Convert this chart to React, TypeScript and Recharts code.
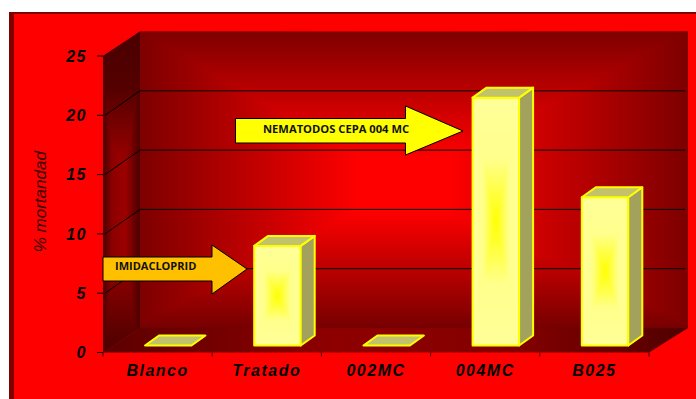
import { Bar, BarChart, ReferenceArea, XAxis, YAxis } from 'recharts'

const categories = ['Blanco', 'Tratado', '002MC', '004MC', 'B025']
const mortality = [0, 8.4, 0, 20.9, 12.5]
const yTicks = [0, 5, 10, 15, 20, 25]
const wallLines = [5, 10, 15, 20]

const rows = categories.map((name, i) => ({ name, mortality: mortality[i] }))

const YMAX = 25
// how far the room's back wall sits behind the axis plane
const ROOM_DX = 37
const ROOM_DX_RIGHT = 39
const ROOM_DY = 24.5
// bars stand a little way in from the front edge of the floor
const BAR_DX = 11
const BAR_DY = 7
const SIDE_DX = 14
const SIDE_DY = 10

const labelStyle = {
  fontFamily: '"Liberation Sans", Arial, sans-serif',
  fontWeight: 700,
  fontStyle: 'italic',
  fontSize: 16,
  letterSpacing: 1.5,
  fill: '#000',
}

function Gradients() {
  return (
    <defs>
      <linearGradient id="wallH" gradientUnits="userSpaceOnUse" x1="140" x2="688" y1="0" y2="0">
        <stop offset="0" stopColor="#7d0000" />
        <stop offset="0.4" stopColor="#ff0000" />
        <stop offset="0.56" stopColor="#ff0000" />
        <stop offset="1" stopColor="#7d0000" />
      </linearGradient>
      <linearGradient id="wallV" gradientUnits="userSpaceOnUse" x1="0" x2="0" y1="31" y2="330">
        <stop offset="0" stopColor="#7d0000" />
        <stop offset="0.42" stopColor="#ff0000" />
        <stop offset="0.6" stopColor="#ff0000" />
        <stop offset="1" stopColor="#740000" />
      </linearGradient>
      <linearGradient id="sideH" gradientUnits="userSpaceOnUse" x1="103" x2="140" y1="0" y2="0">
        <stop offset="0" stopColor="#4a0000" />
        <stop offset="0.25" stopColor="#8c0000" />
        <stop offset="0.6" stopColor="#9c0000" />
        <stop offset="1" stopColor="#4a0000" />
      </linearGradient>
      <linearGradient id="sideV" gradientUnits="userSpaceOnUse" x1="0" x2="0" y1="31" y2="353">
        <stop offset="0" stopColor="#4a0000" />
        <stop offset="0.18" stopColor="#550000" />
        <stop offset="0.45" stopColor="#a80000" />
        <stop offset="0.65" stopColor="#a80000" />
        <stop offset="1" stopColor="#4a0000" />
      </linearGradient>
      <linearGradient id="floorH" gradientUnits="userSpaceOnUse" x1="103" x2="688" y1="0" y2="0">
        <stop offset="0" stopColor="#5c0000" />
        <stop offset="0.4" stopColor="#8e0000" />
        <stop offset="0.7" stopColor="#840000" />
        <stop offset="1" stopColor="#500000" />
      </linearGradient>
      <linearGradient id="barH" x1="0" x2="1" y1="0" y2="0">
        <stop offset="0" stopColor="#ffff99" />
        <stop offset="0.22" stopColor="#ffff8c" />
        <stop offset="0.5" stopColor="#ffff00" />
        <stop offset="0.78" stopColor="#ffff8c" />
        <stop offset="1" stopColor="#ffff99" />
      </linearGradient>
      <linearGradient id="barV" x1="0" x2="0" y1="0" y2="1">
        <stop offset="0" stopColor="#ffff99" />
        <stop offset="0.25" stopColor="#ffff8c" />
        <stop offset="0.5" stopColor="#ffff00" />
        <stop offset="0.75" stopColor="#ffff8c" />
        <stop offset="1" stopColor="#ffff99" />
      </linearGradient>
    </defs>
  )
}

// back wall, side wall, floor, grid lines and category ticks, all placed from the plot rectangle
function Room({ x, y, width, height }: any) {
  const left = x
  const right = x + width
  const top = y
  const bottom = y + height
  const backL = left + ROOM_DX
  const backR = right + ROOM_DX_RIGHT
  const backT = top - ROOM_DY
  const backB = bottom - ROOM_DY
  const side = `${left},${top} ${backL},${backT} ${backL},${backB} ${left},${bottom}`
  const step = width / categories.length
  return (
    <g>
      <g style={{ isolation: 'isolate' }}>
        <rect x={backL} y={backT} width={backR - backL} height={backB - backT} fill="url(#wallH)" />
        <rect
          x={backL}
          y={backT}
          width={backR - backL}
          height={backB - backT}
          fill="url(#wallV)"
          style={{ mixBlendMode: 'darken' }}
        />
      </g>
      <g style={{ isolation: 'isolate' }}>
        <polygon points={side} fill="url(#sideH)" />
        <polygon points={side} fill="url(#sideV)" style={{ mixBlendMode: 'darken' }} />
      </g>
      <polygon
        points={`${left},${bottom} ${right},${bottom} ${backR},${backB} ${backL},${backB}`}
        fill="url(#floorH)"
      />
      {wallLines.map((v) => {
        const ly = bottom - (height * v) / YMAX
        return (
          <polyline
            key={v}
            points={`${left + 2},${ly} ${backL},${ly - ROOM_DY} ${backR - 3},${ly - ROOM_DY}`}
            fill="none"
            stroke="#000"
            strokeWidth={1}
          />
        )
      })}
      {categories.concat('').map((_, i) => (
        <line
          key={i}
          x1={left + step * i}
          x2={left + step * i}
          y1={bottom}
          y2={bottom + 4}
          stroke="#3a0000"
          strokeWidth={1}
        />
      ))}
    </g>
  )
}

function Bar3D({ x, y, width, height }: any) {
  const fx = x + BAR_DX
  const top = y - BAR_DY
  const base = y + height - BAR_DY
  const fr = fx + width
  const line = { stroke: '#ffff00', strokeWidth: 2, strokeLinejoin: 'round' as const }
  return (
    <g>
      {height > 0 && (
        <g style={{ isolation: 'isolate' }}>
          <rect x={fx} y={top} width={width} height={height} fill="url(#barH)" />
          <rect
            x={fx}
            y={top}
            width={width}
            height={height}
            fill="url(#barV)"
            style={{ mixBlendMode: 'lighten' }}
          />
          <rect x={fx} y={top} width={width} height={height} fill="none" {...line} />
          <polygon
            points={`${fr},${top} ${fr + SIDE_DX},${top - SIDE_DY} ${fr + SIDE_DX},${base - SIDE_DY} ${fr},${base}`}
            fill="#a2a25c"
            {...line}
          />
        </g>
      )}
      <polygon
        points={`${fx},${top} ${fr},${top} ${fr + SIDE_DX},${top - SIDE_DY} ${fx + SIDE_DX},${top - SIDE_DY}`}
        fill="#c2c26a"
        {...line}
      />
    </g>
  )
}

function CategoryTick({ x, y, payload }: any) {
  return (
    <text x={x} y={y} dy={17} textAnchor="middle" style={labelStyle}>
      {payload.value}
    </text>
  )
}

function Arrow({ points, fill }: { points: string; fill: string }) {
  return <polygon points={points} fill={fill} stroke="#000" strokeWidth={1} />
}

export default function App() {
  return (
    <div style={{ position: 'absolute', left: 0, top: 0, width: 696, height: 399, overflow: 'hidden', background: '#fff' }}>
      <div style={{ position: 'absolute', left: 9, top: 12, width: 687, height: 387, background: '#800000' }} />
      <div style={{ position: 'absolute', left: 14, top: 14, width: 682, height: 385, background: '#ff0000' }} />
      <BarChart
        width={696}
        height={399}
        data={rows}
        margin={{ top: 56, right: 47, bottom: 16.5, left: 0 }}
        style={{ position: 'absolute', left: 0, top: 0 }}
      >
        <Gradients />
        <XAxis dataKey="name" height={30} axisLine={false} tickLine={false} tickMargin={0} tick={<CategoryTick />} interval={0} />
        <YAxis
          width={103}
          domain={[0, YMAX]}
          ticks={yTicks}
          axisLine={false}
          tickSize={6}
          tickLine={{ stroke: '#000' }}
          tickMargin={10}
          tick={labelStyle}
          label={{
            value: '% mortandad',
            angle: -90,
            position: 'insideLeft',
            offset: 40,
            dy: 48,
            style: {
              fontFamily: '"Liberation Sans", Arial, sans-serif',
              fontStyle: 'italic',
              fontSize: 17,
              fill: '#3a0000',
            },
          }}
        />
        <ReferenceArea y1={0} y2={YMAX} shape={<Room />} fill="none" stroke="none" />
        <Bar dataKey="mortality" barSize={46.5} shape={<Bar3D />} isAnimationActive={false} />
      </BarChart>
      <svg width={696} height={399} style={{ position: 'absolute', left: 0, top: 0, pointerEvents: 'none' }}>
        <Arrow points="103,257 212,257 212,245 247,269 212,294 212,281 103,281" fill="#ffc000" />
        <text x={115} y={270} fontFamily="'Open Sans', sans-serif" fontWeight={700} fontSize={11} fill="#111">
          IMIDACLOPRID
        </text>
        <Arrow points="235.5,118.5 405.5,118.5 405.5,106 463,131 405.5,155 405.5,143 235.5,143 " fill="#ffff00" />
        <text x={263} y={132.5} fontFamily="'Open Sans', sans-serif" fontWeight={700} fontSize={11.2} fill="#111">
          NEMATODOS CEPA 004 MC
        </text>
      </svg>
    </div>
  )
}
